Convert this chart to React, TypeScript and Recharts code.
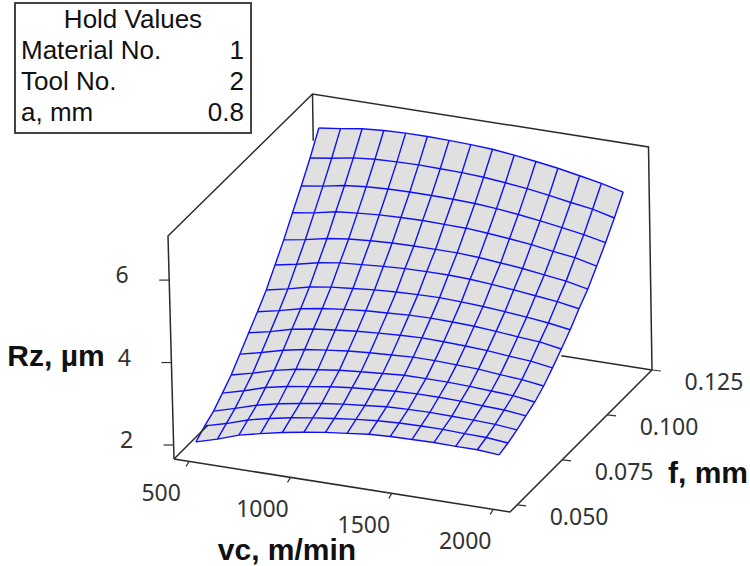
import { Area, ComposedChart, Line, ReferenceDot, XAxis, YAxis } from "recharts";

const vcGrid = [500, 607, 714, 821, 929, 1036, 1143, 1250, 1357, 1464, 1571, 1679, 1786, 1893, 2000];
const fGrid = [0.05, 0.055, 0.06, 0.065, 0.07, 0.075, 0.08, 0.085, 0.09, 0.095, 0.1, 0.105, 0.11, 0.115, 0.12];

// one row per f value, one column per vc value
const rzGrid = [
  [1.96, 2.11, 2.29, 2.41, 2.52, 2.61, 2.69, 2.75, 2.81, 2.84, 2.85, 2.86, 2.85, 2.85, 2.81],
  [2.13, 2.27, 2.44, 2.56, 2.66, 2.74, 2.81, 2.87, 2.92, 2.95, 2.96, 2.96, 2.94, 2.93, 2.88],
  [2.27, 2.42, 2.58, 2.7, 2.79, 2.87, 2.94, 2.99, 3.04, 3.06, 3.07, 3.06, 3.05, 3.03, 2.98],
  [2.49, 2.63, 2.79, 2.9, 2.98, 3.06, 3.12, 3.16, 3.2, 3.22, 3.22, 3.21, 3.18, 3.16, 3.1],
  [2.71, 2.84, 2.99, 3.1, 3.17, 3.24, 3.29, 3.33, 3.37, 3.37, 3.37, 3.35, 3.32, 3.29, 3.22],
  [3.0, 3.12, 3.26, 3.36, 3.43, 3.49, 3.53, 3.56, 3.59, 3.59, 3.57, 3.55, 3.5, 3.46, 3.39],
  [3.3, 3.41, 3.55, 3.64, 3.7, 3.75, 3.79, 3.82, 3.84, 3.83, 3.81, 3.78, 3.73, 3.69, 3.61],
  [3.59, 3.7, 3.83, 3.92, 3.98, 4.03, 4.06, 4.09, 4.1, 4.09, 4.07, 4.03, 3.98, 3.94, 3.85],
  [3.9, 4.01, 4.14, 4.22, 4.27, 4.32, 4.35, 4.37, 4.38, 4.36, 4.33, 4.29, 4.24, 4.18, 4.1],
  [4.29, 4.39, 4.51, 4.59, 4.63, 4.67, 4.7, 4.71, 4.71, 4.69, 4.65, 4.6, 4.54, 4.48, 4.39],
  [4.68, 4.77, 4.88, 4.95, 4.99, 5.02, 5.03, 5.03, 5.03, 5.0, 4.95, 4.9, 4.83, 4.76, 4.65],
  [5.12, 5.2, 5.31, 5.36, 5.4, 5.42, 5.43, 5.42, 5.41, 5.37, 5.32, 5.26, 5.18, 5.11, 4.99],
  [5.55, 5.63, 5.73, 5.78, 5.81, 5.82, 5.82, 5.81, 5.79, 5.75, 5.69, 5.62, 5.54, 5.45, 5.34],
  [6.01, 6.09, 6.18, 6.23, 6.25, 6.26, 6.25, 6.24, 6.21, 6.16, 6.1, 6.02, 5.93, 5.85, 5.72],
  [6.52, 6.59, 6.67, 6.71, 6.73, 6.73, 6.72, 6.7, 6.67, 6.61, 6.54, 6.46, 6.36, 6.26, 6.13],
];

const vcTicks = [500, 1000, 1500, 2000];
const fTicks = [0.05, 0.075, 0.1, 0.125];
const rzTicks = [2, 4, 6];

const holdValues = [
  { name: "Material No.", value: "1" },
  { name: "Tool No.", value: "2" },
  { name: "a, mm", value: "0.8" },
];

type Pt = { x: number; y: number };

const RZ_MIN = 1.66;
const RZ_MAX = 7.07;

// 3D box -> flat picture coordinates. u runs along vc, v along f, w along Rz, all 0..1
const boxPoint = (u: number, v: number, w: number): Pt => ({
  x: 174 + 336 * u + 142 * v - (6 - 2.5 * v) * w,
  y: 459 + 53 * u - 142 * v - 223 * w,
});

const uOf = (vc: number) => 0.045 + ((vc - 500) / 1500) * 0.905;
const vOf = (f: number) => 0.05 + ((f - 0.05) / 0.075) * 0.95;
const wOf = (rz: number) => (rz - RZ_MIN) / (RZ_MAX - RZ_MIN);

const shift = (p: Pt, dx: number, dy: number): Pt => ({ x: p.x + dx, y: p.y + dy });

const surface = fGrid.map((f, j) => vcGrid.map((vc, i) => boxPoint(uOf(vc), vOf(f), wOf(rzGrid[j][i]))));

const fRows = surface;
const vcCols = vcGrid.map((_, i) => surface.map((row) => row[i]));

const upperEdge = [...vcCols[0], ...fRows[14]];
const lowerEdge = [...fRows[0], ...vcCols[14]];

const yAt = (edge: Pt[], x: number) => {
  for (let k = 1; k < edge.length; k++) {
    if (x <= edge[k].x) {
      const a = edge[k - 1];
      const b = edge[k];
      return b.x === a.x ? b.y : a.y + ((b.y - a.y) * (x - a.x)) / (b.x - a.x);
    }
  }
  return edge[edge.length - 1].y;
};

// grey fill, only used to shade what the boundary lines enclose
const fillData = [...upperEdge, ...lowerEdge]
  .map((p) => p.x)
  .sort((a, b) => a - b)
  .map((x) => ({ x, range: [yAt(lowerEdge, x), yAt(upperEdge, x)] }));

// Back edges stop where the surface hides them
const boxLines: Pt[][] = [
  [boxPoint(0, 0, 0), boxPoint(0, 0.24, 0)],
  [boxPoint(1, 1, 0), boxPoint(0.73, 1, 0)],
  [boxPoint(0, 0, 0), boxPoint(1, 0, 0), boxPoint(1, 1, 0)],
  [boxPoint(0, 0, 0), boxPoint(0, 0, 1), boxPoint(0, 1, 1), boxPoint(1, 1, 1), boxPoint(1, 1, 0)],
  [boxPoint(0, 1, 1), boxPoint(0, 1, 0.79)],
];

const tickLines: Pt[][] = [
  ...vcTicks.map((vc) => {
    const p = boxPoint(uOf(vc), 0, 0);
    return [p, shift(p, -3, 5)];
  }),
  ...fTicks.map((f) => {
    const p = boxPoint(1, vOf(f), 0);
    return [p, shift(p, 9, 1)];
  }),
  ...rzTicks.map((rz) => {
    const p = boxPoint(0, 0, wOf(rz));
    return [p, shift(p, -10, 0)];
  }),
];

const tickFont = { fontFamily: "'Noto Sans'", fontSize: 23, fill: "#333333" };
const titleFont = { fontFamily: "'Liberation Sans'", fontSize: 30, fontWeight: 700, fill: "#111111" };

function note(key: string, x: number, y: number, text: string, font: object) {
  return <ReferenceDot key={key} x={x} y={y} r={0} fill="none" stroke="none" label={{ value: text, position: "center", ...font }} />;
}

const lineProps = { dataKey: "y", dot: false, activeDot: false, isAnimationActive: false, legendType: "none" as const };

export default function App() {
  return (
    <div style={{ position: "absolute", left: 0, top: 0, width: 750, height: 566, background: "#fff" }}>
      <ComposedChart width={750} height={566} margin={{ top: 0, right: 0, bottom: 0, left: 0 }}>
        <XAxis type="number" dataKey="x" domain={[0, 750]} hide />
        <YAxis type="number" domain={[0, 566]} reversed hide />

        {/* Surface */}
        <Area data={fillData} dataKey="range" type="linear" stroke="none" fill="#e0e0e0" fillOpacity={1} dot={false} activeDot={false} isAnimationActive={false} legendType="none" />
        {fRows.map((pts, k) => (
          <Line key={`f${k}`} {...lineProps} data={pts} stroke="#1010f8" strokeWidth={1.4} />
        ))}
        {vcCols.map((pts, k) => (
          <Line key={`vc${k}`} {...lineProps} data={pts} stroke="#1010f8" strokeWidth={1.4} />
        ))}

        {/* Box and ticks */}
        {boxLines.map((pts, k) => (
          <Line key={`box${k}`} {...lineProps} data={pts} stroke="#2a2a2a" strokeWidth={1.5} />
        ))}
        {tickLines.map((pts, k) => (
          <Line key={`tick${k}`} {...lineProps} data={pts} stroke="#333333" strokeWidth={1.2} />
        ))}

        {vcTicks.map((vc) => {
          const p = boxPoint(uOf(vc), 0, 0);
          return note(`vc${vc}`, p.x - 28, p.y + 31, String(vc), tickFont);
        })}
        {fTicks.map((f) => {
          const p = boxPoint(1, vOf(f), 0);
          return note(`f${f}`, p.x + 62, p.y + 12, f.toFixed(3), tickFont);
        })}
        {rzTicks.map((rz) => {
          const p = boxPoint(0, 0, wOf(rz));
          return note(`rz${rz}`, p.x - 47, p.y - 5, String(rz), tickFont);
        })}

        {note("rzTitle", 56, 355, "Rz, µm", titleFont)}
        {note("vcTitle", 287, 549, "vc, m/min", titleFont)}
        {note("fTitle", 708, 472, "f, mm", titleFont)}
      </ComposedChart>

      {/* Hold values box */}
      <div
        style={{
          position: "absolute",
          left: 14,
          top: 2,
          width: 234,
          height: 128,
          border: "2px solid #444444",
          fontFamily: "'Liberation Sans'",
          fontSize: 26,
          color: "#111111",
          lineHeight: "31px",
          background: "#fff",
        }}
      >
        <div style={{ textAlign: "center" }}>Hold Values</div>
        {holdValues.map((h) => (
          <div key={h.name} style={{ display: "flex", justifyContent: "space-between", padding: "0 6px 0 5px" }}>
            <span>{h.name}</span>
            <span>{h.value}</span>
          </div>
        ))}
      </div>
    </div>
  );
}
